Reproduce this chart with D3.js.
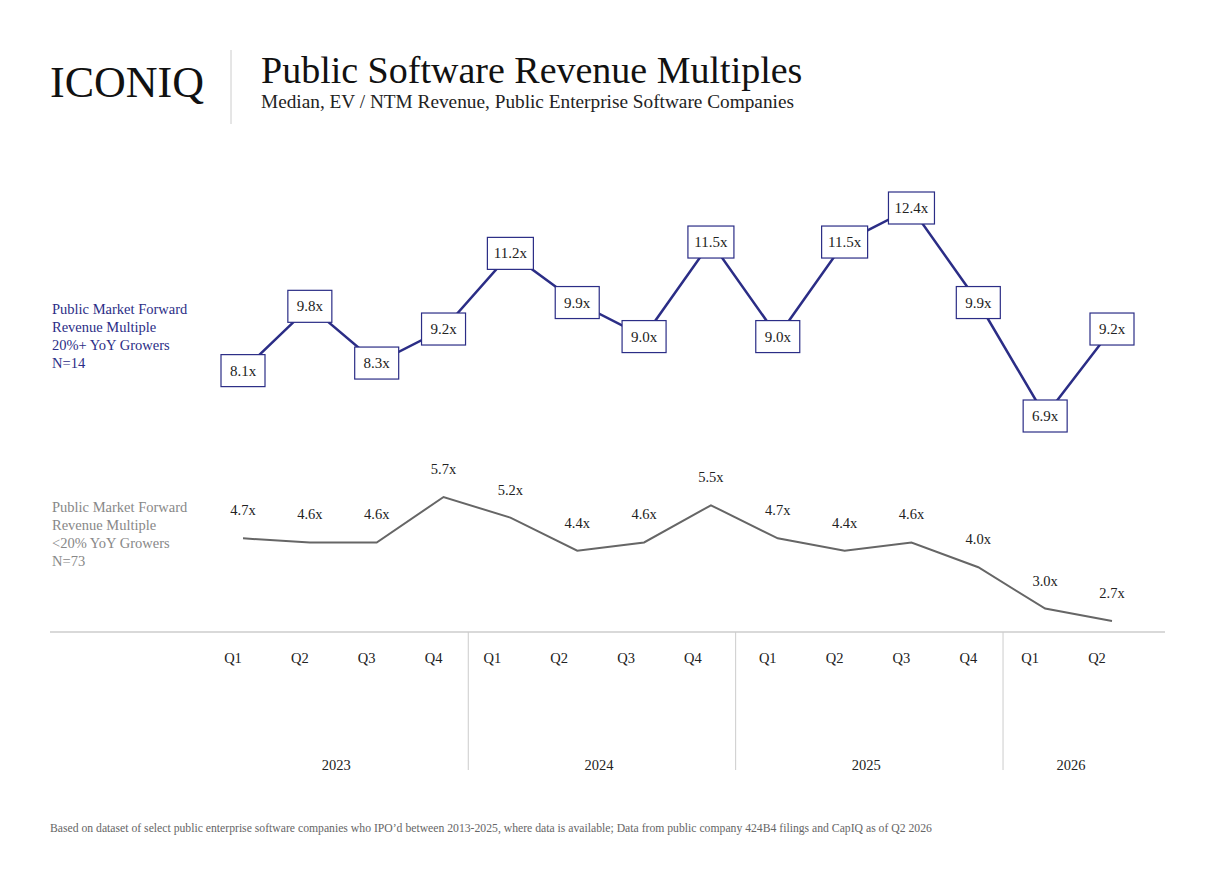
<!DOCTYPE html>
<html><head><meta charset="utf-8">
<script src="https://cdn.jsdelivr.net/npm/d3@7"></script>
<style>body{margin:0;background:#fff}svg{font-family:"Liberation Serif",serif}</style>
</head><body><div id="chart"></div>
<script>
const quarters = ["Q1","Q2","Q3","Q4","Q1","Q2","Q3","Q4","Q1","Q2","Q3","Q4","Q1","Q2"];
const years = ["2023","2024","2025","2026"];
const yearQuarters = [4,4,4,2];
const growers = [8.1,9.8,8.3,9.2,11.2,9.9,9.0,11.5,9.0,11.5,12.4,9.9,6.9,9.2];
const others = [4.7,4.6,4.6,5.7,5.2,4.4,4.6,5.5,4.7,4.4,4.6,4.0,3.0,2.7];

const W = 1216, H = 882;
const svg = d3.select("#chart").append("svg").attr("width", W).attr("height", H);
const blue = "#2b2d86", grey = "#666";

// header
svg.append("text").attr("x",50).attr("y",97).attr("font-size",44).attr("fill","#111").text("ICONIQ");
svg.append("line").attr("x1",231).attr("x2",231).attr("y1",50).attr("y2",124).attr("stroke","#ccc");
svg.append("text").attr("x",261).attr("y",83).attr("font-size",38).attr("fill","#111").text("Public Software Revenue Multiples");
svg.append("text").attr("x",261).attr("y",108).attr("font-size",19.3).attr("fill","#222").text("Median, EV / NTM Revenue, Public Enterprise Software Companies");

const idx = d3.range(quarters.length);
const x = d3.scaleLinear().domain([0, 13]).range([243, 1112]);
const yTop = d3.scaleLinear().domain([6.9, 12.4]).range([416, 208]);
const yBot = d3.scaleLinear().domain([2.7, 5.7]).range([621, 497]);

// series labels
const lab = (lines, y0, color) => lines.forEach((t,i) =>
  svg.append("text").attr("x",52).attr("y",y0+i*18).attr("font-size",14.5).attr("fill",color).text(t));
lab(["Public Market Forward","Revenue Multiple","20%+ YoY Growers","N=14"], 314, blue);
lab(["Public Market Forward","Revenue Multiple","<20% YoY Growers","N=73"], 512, "#888");

// bottom line
svg.append("path").datum(idx).attr("fill","none").attr("stroke",grey).attr("stroke-width",2)
  .attr("d", d3.line().x(i=>x(i)).y(i=>yBot(others[i])));
svg.selectAll(".bl").data(idx).join("text").attr("text-anchor","middle").attr("font-size",14.5).attr("fill","#222")
  .attr("x",i=>x(i)).attr("y",i=>yBot(others[i])-23).text(i=>others[i].toFixed(1)+"x");

// top line
svg.append("path").datum(idx).attr("fill","none").attr("stroke",blue).attr("stroke-width",2.5)
  .attr("d", d3.line().x(i=>x(i)).y(i=>yTop(growers[i])));
const g = svg.selectAll(".tl").data(idx).join("g").attr("transform",i=>`translate(${x(i)},${yTop(growers[i])})`);
g.append("rect").attr("x",i=>growers[i]>=10?-23:-22).attr("y",-16).attr("width",i=>growers[i]>=10?46:44).attr("height",32)
  .attr("fill","#fff").attr("stroke",blue).attr("stroke-width",1.2);
g.append("text").attr("text-anchor","middle").attr("y",5).attr("font-size",15).attr("fill","#222")
  .text(i=>growers[i].toFixed(1)+"x");

// axis
svg.append("line").attr("x1",50).attr("x2",1165).attr("y1",632).attr("y2",632).attr("stroke","#ccc").attr("stroke-width",1.5);
svg.selectAll(".q").data(idx).join("text").attr("text-anchor","middle").attr("font-size",14.5).attr("fill","#222")
  .attr("x",i=>x(i)-10+ (i>=4&&i<8?-8:0) + (i>=12?-5:0)).attr("y",663).text(i=>quarters[i]);
let start = 0;
const bounds = [210];
const step = x(1) - x(0);
yearQuarters.forEach((n,k)=>{
  const end = start+n;
  const right = k<3 ? x(end-1) + step*0.37 : 1132;
  const left = bounds[k];
  bounds.push(right);
  if (k<3) svg.append("line").attr("x1",right).attr("x2",right).attr("y1",632).attr("y2",770).attr("stroke","#ccc");
  svg.append("text").attr("text-anchor","middle").attr("font-size",14.5).attr("fill","#222")
    .attr("x", k<3 ? (left+right)/2 - 3 : 1071).attr("y",770).text(years[k]);
  start = end;
});

svg.append("text").attr("x",50).attr("y",832).attr("font-size",11.7).attr("fill","#666")
  .text("Based on dataset of select public enterprise software companies who IPO’d between 2013-2025, where data is available; Data from public company 424B4 filings and CapIQ as of  Q2 2026");
</script></body></html>
